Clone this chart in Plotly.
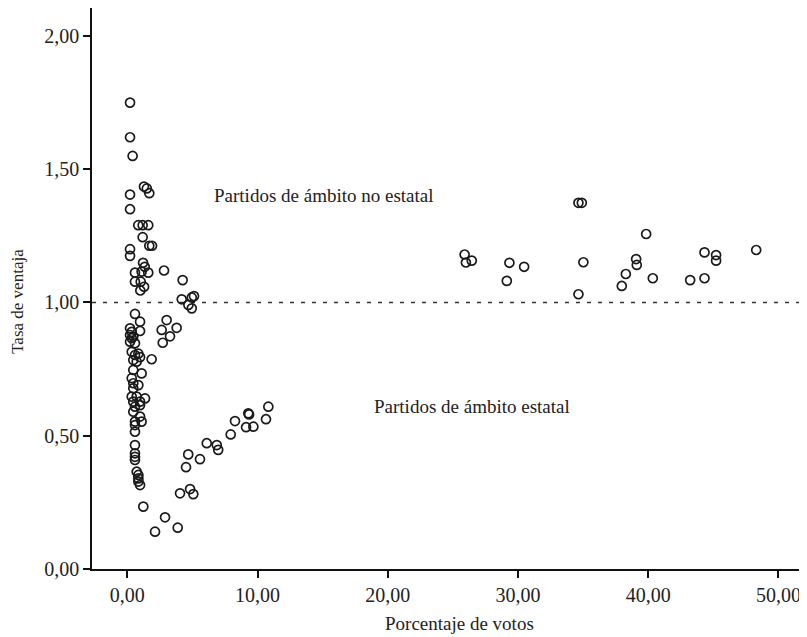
import plotly.graph_objects as go

# Data (x = Porcentaje de votos, y = Tasa de ventaja)
x_upper = [0.21, 0.21, 0.41, 1.28, 1.50, 1.69, 0.21, 0.21, 0.84, 1.18, 1.61, 1.18, 1.69, 1.90,
           0.21, 0.21, 1.21, 1.34, 0.59, 1.10, 1.61, 2.82, 0.59, 1.03, 1.29, 4.25, 1.00]
y_upper = [1.75, 1.62, 1.55, 1.435, 1.428, 1.41, 1.405, 1.35, 1.29, 1.29, 1.29, 1.245, 1.213, 1.213,
           1.20, 1.175, 1.149, 1.134, 1.112, 1.116, 1.112, 1.12, 1.078, 1.078, 1.059, 1.084, 1.045]

x_near1 = [4.18, 4.95, 5.12, 4.69, 4.95, 3.02, 2.64, 3.79, 3.28, 2.72, 1.87]
y_near1 = [1.012, 1.019, 1.024, 0.991, 0.978, 0.934, 0.897, 0.905, 0.873, 0.849, 0.787]

x_arc = [10.83, 9.29, 9.35, 10.65, 8.27, 9.12, 9.68, 7.94, 6.10, 6.87, 6.98, 4.68, 5.58, 4.51,
         4.05, 4.82, 5.07, 1.23, 2.90, 3.87, 2.13]
y_arc = [0.609, 0.584, 0.580, 0.562, 0.555, 0.532, 0.534, 0.505, 0.472, 0.465, 0.447, 0.430, 0.412, 0.382,
         0.284, 0.300, 0.281, 0.234, 0.194, 0.155, 0.140]

x_column = [0.59, 0.98, 0.21, 0.34, 0.21, 0.46, 0.34, 0.21, 0.59, 0.98,
            0.34, 0.59, 0.85, 0.46, 0.72, 0.98, 0.46, 1.10,
            0.34, 0.46, 0.85, 0.46, 0.34, 0.72, 1.36, 0.46, 0.98,
            0.59, 0.98, 0.46, 0.98, 0.59, 1.10, 0.59, 0.59,
            0.59, 0.59, 0.59, 0.59, 0.72, 0.85, 0.85, 0.85, 0.98]
y_column = [0.957, 0.928, 0.903, 0.890, 0.878, 0.872, 0.866, 0.853, 0.847, 0.893,
            0.815, 0.803, 0.808, 0.784, 0.778, 0.795, 0.747, 0.734,
            0.716, 0.697, 0.690, 0.678, 0.647, 0.647, 0.640, 0.628, 0.628,
            0.609, 0.615, 0.590, 0.572, 0.553, 0.553, 0.540, 0.515,
            0.465, 0.434, 0.421, 0.409, 0.365, 0.353, 0.340, 0.328, 0.315]

x_right = [25.9, 26.0, 26.45, 34.64, 34.9, 29.34, 30.47, 29.14, 35.02, 34.64,
           39.84, 39.07, 39.12, 38.28, 37.97, 40.35, 44.32, 45.21, 45.21, 43.22, 44.32, 48.29]
y_right = [1.18, 1.15, 1.157, 1.374, 1.374, 1.149, 1.134, 1.081, 1.151, 1.031,
           1.257, 1.163, 1.141, 1.107, 1.062, 1.091, 1.188, 1.178, 1.157, 1.084, 1.091, 1.197]

x_ticks = [0, 10, 20, 30, 40, 50]
y_ticks = [0, 0.5, 1.0, 1.5, 2.0]
reference_y = 1.0

x_all = x_upper + x_near1 + x_arc + x_column + x_right
y_all = y_upper + y_near1 + y_arc + y_column + y_right

FONT = "Liberation Serif, Times New Roman, serif"
INK = "#222222"

fig = go.Figure()
fig.add_trace(go.Scatter(
    x=x_all, y=y_all, mode="markers",
    marker=dict(symbol="circle-open", size=9, color="#1a1a1a", line=dict(width=1.7)),
    showlegend=False, hoverinfo="skip",
))

fig.add_shape(type="line", xref="paper", yref="y", x0=0, x1=1, y0=reference_y, y1=reference_y,
              line=dict(color="#333333", width=1.3, dash="4px,7px"), layer="below")

fig.add_annotation(x=6.48, y=1.403, xref="x", yref="y", text="Partidos de ámbito no estatal",
                   showarrow=False, xanchor="left", yanchor="middle",
                   font=dict(family=FONT, size=19, color=INK))
fig.add_annotation(x=18.77, y=0.609, xref="x", yref="y", text="Partidos de ámbito estatal",
                   showarrow=False, xanchor="left", yanchor="middle",
                   font=dict(family=FONT, size=19, color=INK))
fig.add_annotation(x=0.5133, y=-0.098, xref="paper", yref="paper", text="Porcentaje de votos",
                   showarrow=False, xanchor="center", yanchor="middle",
                   font=dict(family=FONT, size=19, color=INK))
fig.add_annotation(x=-0.1035, y=0.478, xref="paper", yref="paper", text="Tasa de ventaja",
                   showarrow=False, xanchor="center", yanchor="middle", textangle=-90,
                   font=dict(family=FONT, size=17, color=INK))

# The page adds an 8px body margin, so the figure is sized to fill the rest of the window.
fig.update_layout(
    width=799, height=629,
    margin=dict(l=84, r=0, t=0, b=68),
    paper_bgcolor="white", plot_bgcolor="white",
    separators=",.",
    font=dict(family=FONT, size=20, color=INK),
    xaxis=dict(range=[-2.71, 52.19], tickvals=x_ticks, tickformat=".2f",
               showgrid=False, zeroline=False, showline=True, linecolor="#111111", linewidth=1.5,
               ticks="outside", ticklen=7, tickwidth=2, tickcolor="#111111",
               tickfont=dict(family=FONT, size=20, color=INK)),
    yaxis=dict(range=[0, 2.105], tickvals=y_ticks, tickformat=".2f",
               showgrid=False, zeroline=False, showline=True, linecolor="#111111", linewidth=1.5,
               ticks="outside", ticklen=7, tickwidth=2, tickcolor="#111111",
               tickfont=dict(family=FONT, size=20, color=INK)),
)

fig.write_html("out.html")
